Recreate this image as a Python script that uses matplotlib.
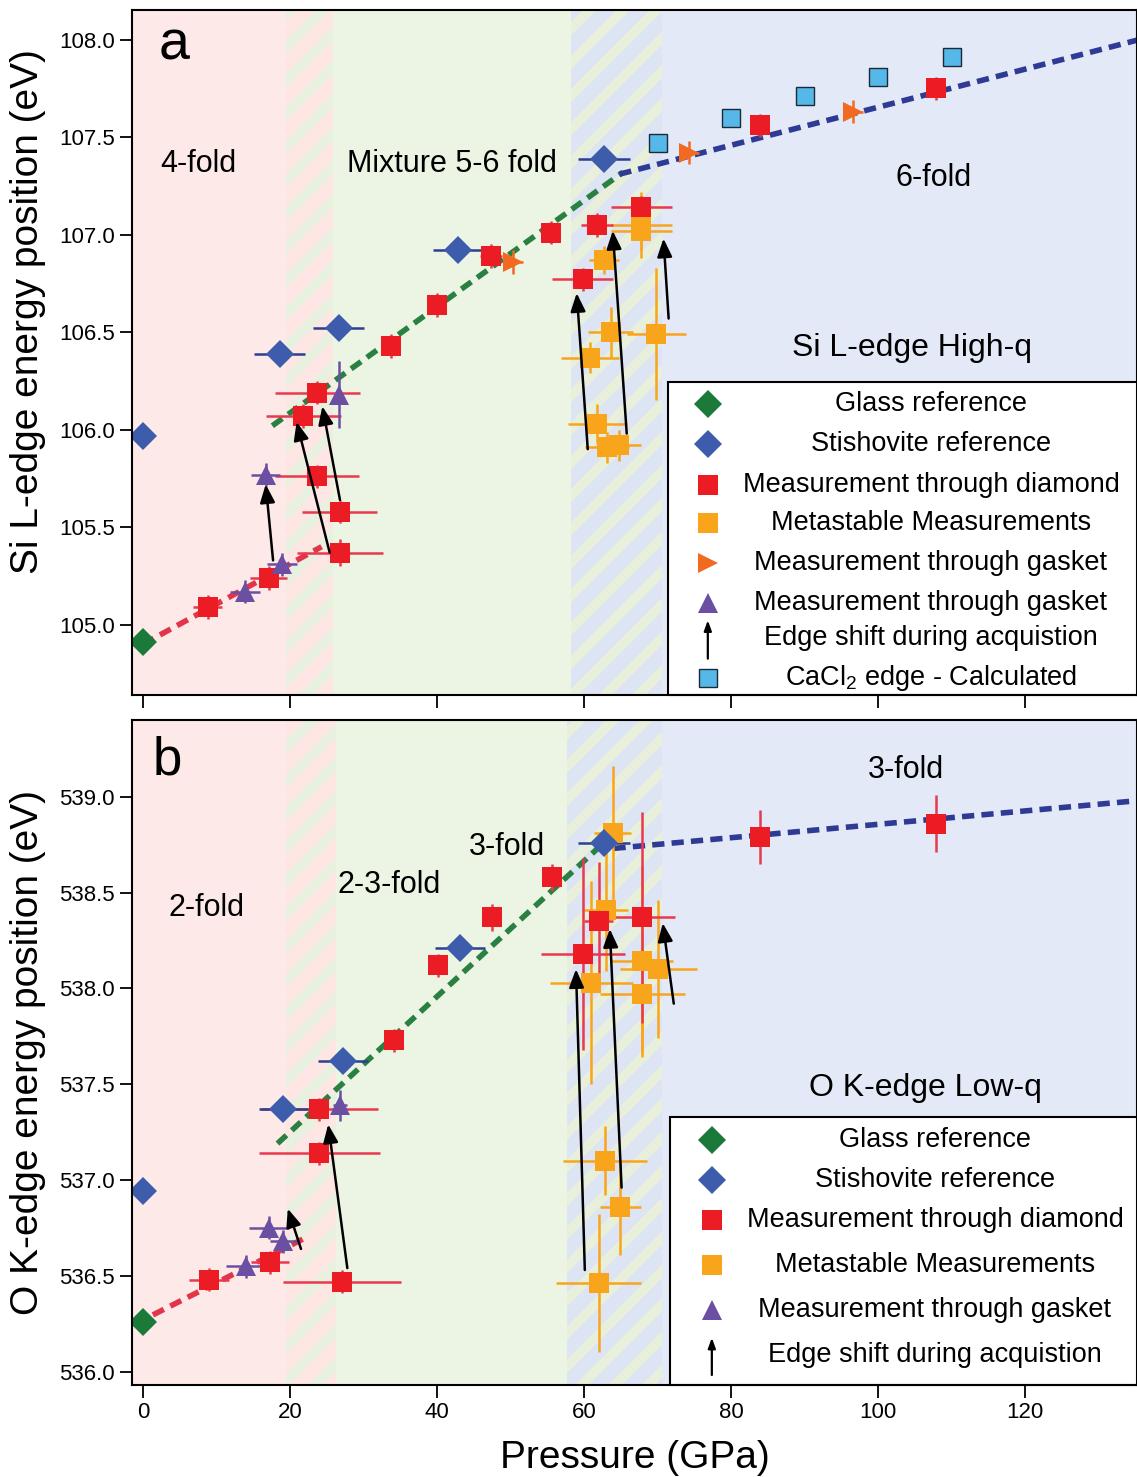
"""
Si L-edge / O K-edge energy position vs pressure (two stacked panels).
"""

import matplotlib
matplotlib.use("Agg")
import matplotlib.pyplot as plt
from matplotlib.patches import Rectangle

plt.rcParams["font.family"] = ["Liberation Sans", "DejaVu Sans"]
plt.rcParams["mathtext.default"] = "regular"
plt.rcParams["hatch.linewidth"] = 7

# ---------------- panel a: Si L-edge ----------------
glass_a_x = [0]
glass_a_y = [104.91]

stish_a_x = [0, 18.6, 26.6, 42.8, 62.7]
stish_a_y = [105.97, 106.39, 106.52, 106.92, 107.39]
stish_a_xerr = [0, 3.5, 3.5, 3.3, 3.5]

diam_a_x = [8.8, 17.1, 23.7, 26.8, 26.8, 21.8, 23.7, 33.8, 40.0, 47.3, 55.5, 59.8, 61.8, 67.8, 83.9, 107.8]
diam_a_y = [105.09, 105.24, 105.76, 105.58, 105.37, 106.07, 106.19, 106.43, 106.64, 106.89, 107.01,
            106.77, 107.05, 107.14, 107.56, 107.75]
diam_a_xerr = [2.0, 2.5, 5.7, 5.1, 5.8, 5.1, 5.8, 1.2, 1.2, 1.5, 1.2, 4.1, 2.2, 4.1, 1.0, 1.0]
diam_a_yerr = [0.06, 0.06, 0.06, 0.06, 0.07, 0.06, 0.06, 0.06, 0.06, 0.06, 0.06, 0.06, 0.06, 0.06, 0.06, 0.06]

meta_a_x = [60.8, 61.8, 63.1, 64.7, 63.6, 69.8, 62.7, 67.8, 67.8]
meta_a_y = [106.37, 106.03, 105.91, 105.92, 106.50, 106.49, 106.87, 107.05, 107.02]
meta_a_xerr = [4.0, 4.0, 3.0, 3.0, 3.0, 4.0, 2.0, 4.1, 4.1]
meta_a_yerr = [0.08, 0.10, 0.08, 0.08, 0.13, 0.34, 0.07, 0.17, 0.10]

gasket_r_a_x = [50.4, 74.3, 96.6]
gasket_r_a_y = [106.86, 107.42, 107.63]

gasket_t_a_x = [13.9, 18.9, 16.7, 26.6]
gasket_t_a_y = [105.17, 105.31, 105.77, 106.18]
gasket_t_a_xerr = [2.0, 2.0, 2.0, 0.3]
gasket_t_a_yerr = [0.06, 0.06, 0.06, 0.17]

cacl2_x = [70, 80, 90, 100, 110]
cacl2_y = [107.47, 107.60, 107.71, 107.81, 107.91]

arrow_a_start = [(17.7, 105.33), (25.4, 105.37), (26.8, 105.64), (60.5, 105.90), (65.8, 105.98), (71.5, 106.57)]
arrow_a_end = [(16.7, 105.72), (20.9, 106.04), (24.4, 106.12), (59.0, 106.70), (63.9, 107.02), (70.8, 106.98)]

fit_red_a_x, fit_red_a_y = [0, 24.3], [104.90, 105.40]
fit_green_a_x, fit_green_a_y = [17.6, 65.3], [106.02, 107.32]
fit_blue_a_x, fit_blue_a_y = [64.8, 135.5], [107.31, 108.00]

# ---------------- panel b: O K-edge ----------------
glass_b_x = [0]
glass_b_y = [536.26]

stish_b_x = [0, 19.1, 27.2, 43.1, 62.7]
stish_b_y = [536.94, 537.37, 537.62, 538.21, 538.76]
stish_b_xerr = [0, 3.3, 3.4, 3.4, 3.5]

diam_b_x = [9.0, 17.3, 24.0, 24.0, 27.1, 34.1, 40.2, 47.5, 55.7, 59.9, 62.0, 67.9, 83.9, 107.8]
diam_b_y = [536.48, 536.57, 537.14, 537.37, 536.47, 537.73, 538.12, 538.37, 538.58, 538.18, 538.35,
            538.37, 538.79, 538.86]
diam_b_xerr = [2.7, 2.6, 8.2, 8.0, 8.0, 1.2, 1.2, 1.2, 1.2, 5.7, 2.0, 4.5, 1.0, 1.0]
diam_b_yerr = [0.06, 0.06, 0.06, 0.06, 0.06, 0.06, 0.06, 0.07, 0.07, 0.50, 0.31, 0.55, 0.14, 0.15]

meta_b_x = [63.9, 63.0, 61.0, 67.9, 70.1, 67.9, 62.9, 64.9, 62.0]
meta_b_y = [538.81, 538.41, 538.03, 538.14, 538.10, 537.97, 537.10, 536.86, 536.46]
meta_b_xerr = [2.5, 3.0, 5.7, 4.2, 5.2, 5.8, 5.7, 2.8, 5.8]
meta_b_yerr = [0.35, 0.32, 0.53, 0.50, 0.36, 0.30, 0.18, 0.25, 0.36]

gasket_t_b_x = [14.0, 17.1, 19.1, 26.8]
gasket_t_b_y = [536.55, 536.75, 536.68, 537.39]
gasket_t_b_xerr = [2.7, 2.7, 1.8, 1.0]
gasket_t_b_yerr = [0.06, 0.06, 0.06, 0.08]

arrow_b_start = [(21.5, 536.64), (27.8, 536.54), (60.1, 536.53), (65.1, 536.96), (72.2, 537.92)]
arrow_b_end = [(19.7, 536.85), (25.2, 537.29), (58.9, 538.10), (63.5, 538.31), (70.7, 538.34)]

fit_red_b_x, fit_red_b_y = [-1.0, 22.2], [536.25, 536.70]
fit_green_b_x, fit_green_b_y = [18.3, 62.7], [537.19, 538.76]
fit_blue_b_x, fit_blue_b_y = [64.0, 135.5], [538.73, 538.98]

# background regions (pressure boundaries)
regions_a = [-2, 19.5, 25.9, 58.2, 70.6, 140]
regions_b = [-2, 19.5, 26.2, 57.7, 70.6, 140]

# colours
C_GLASS = "#1b7a3a"
C_STISH = "#3d5cab"
C_DIAM = "#ec1c24"
C_META = "#f9a51b"
C_GASK_R = "#f26a21"
C_GASK_T = "#6b4fa3"
C_CACL2 = "#56b8e8"
C_PINK = "#fde9e7"
C_GREEN = "#ecf4e4"
C_BLUE = "#e3e9f6"

MS_SQ = 15
MS_DI = 14
MS_TR = 15


def shade(ax, edges):
    ax.axvspan(edges[0], edges[1], facecolor=C_PINK, lw=0, zorder=0)
    ax.axvspan(edges[1], edges[2], facecolor="#fde6e4", edgecolor="#e8f1df", hatch="/", lw=0, zorder=0)
    ax.axvspan(edges[2], edges[3], facecolor=C_GREEN, lw=0, zorder=0)
    ax.axvspan(edges[3], edges[4], facecolor="#dde5f5", edgecolor="#e8efda", hatch="/", lw=0, zorder=0)
    ax.axvspan(edges[4], edges[5], facecolor=C_BLUE, lw=0, zorder=0)


def series(ax, x, y, marker, color, ms, xerr=None, yerr=None, ecolor=None, mec=None, z=4):
    ax.errorbar(x, y, xerr=xerr, yerr=yerr, fmt=marker, color=color, ms=ms,
                ecolor=ecolor or color, elinewidth=1.8, capsize=0,
                mec=mec or color, mew=1.0 if mec else 0, zorder=z)


def fit(ax, x, y, color):
    ax.plot(x, y, color=color, lw=4, ls=(0, (2.2, 1.3)), zorder=3)


def arrows(ax, starts, ends):
    for s, e in zip(starts, ends):
        ax.annotate("", xy=e, xytext=s,
                    arrowprops=dict(arrowstyle="-|>,head_length=1.1,head_width=0.45",
                                    color="black", lw=1.8, shrinkA=0, shrinkB=0),
                    zorder=6)


def legend_box(ax, x0, y_top, rows, mk_x, txt_x):
    ax.add_patch(Rectangle((x0, 0), 1 - x0 + 0.01, y_top, transform=ax.transAxes,
                           facecolor="white", edgecolor="black", lw=1.5, zorder=7, clip_on=False))
    for yy, kind, label in rows:
        if kind == "arrow":
            ax.annotate("", xy=(mk_x, yy + 0.026), xytext=(mk_x, yy - 0.03),
                        xycoords="axes fraction",
                        arrowprops=dict(arrowstyle="-|>,head_length=0.6,head_width=0.22",
                                        color="black", lw=1.6, shrinkA=0, shrinkB=0), zorder=8)
        else:
            marker, color, ms, mec = kind
            ax.plot([mk_x], [yy], marker=marker, color=color, ms=ms, mec=mec or color,
                    mew=1.0 if mec else 0, transform=ax.transAxes, zorder=8, clip_on=False)
        ax.text(txt_x, yy, label, transform=ax.transAxes, ha="center", va="center",
                fontsize=19.5, zorder=8)


def style(ax, ylim, yticks):
    ax.set_xlim(-1.5, 135.2)
    ax.set_ylim(*ylim)
    ax.set_xticks([0, 20, 40, 60, 80, 100, 120])
    ax.set_yticks(yticks)
    ax.set_yticklabels([f"{t:.1f}" for t in yticks])
    ax.tick_params(direction="out", length=9, width=1.3, labelsize=16)
    for sp in ax.spines.values():
        sp.set_linewidth(1.5)
        sp.set_zorder(9)


fig = plt.figure(figsize=(11.37, 14.77), dpi=100)
ax1 = fig.add_axes([0.116, 0.5295, 0.884, 0.4635])
ax2 = fig.add_axes([0.116, 0.0623, 0.884, 0.4502])

# ---- panel a ----
shade(ax1, regions_a)
fit(ax1, fit_red_a_x, fit_red_a_y, "#e2354a")
fit(ax1, fit_green_a_x, fit_green_a_y, "#2a8040")
fit(ax1, fit_blue_a_x, fit_blue_a_y, "#2e3a94")
series(ax1, meta_a_x, meta_a_y, "s", C_META, MS_SQ, meta_a_xerr, meta_a_yerr)
series(ax1, diam_a_x, diam_a_y, "s", C_DIAM, MS_SQ, diam_a_xerr, diam_a_yerr, ecolor="#e8394d")
series(ax1, gasket_r_a_x, gasket_r_a_y, ">", C_GASK_R, MS_TR, 1.3, 0.06)
series(ax1, gasket_t_a_x, gasket_t_a_y, "^", C_GASK_T, MS_TR, gasket_t_a_xerr, gasket_t_a_yerr)
series(ax1, stish_a_x, stish_a_y, "D", C_STISH, MS_DI, stish_a_xerr, None, ecolor="#2d3f8f")
series(ax1, glass_a_x, glass_a_y, "D", C_GLASS, MS_DI)
series(ax1, cacl2_x, cacl2_y, "s", C_CACL2, 13, mec="#1a2a3a")
arrows(ax1, arrow_a_start, arrow_a_end)
style(ax1, (104.64, 108.15), [105.0, 105.5, 106.0, 106.5, 107.0, 107.5, 108.0])
ax1.set_xticklabels([])
ax1.set_ylabel("Si L-edge energy position (eV)", fontsize=28)
ax1.yaxis.set_label_coords(-0.085, 0.56)

ax1.text(4.2, 107.97, "a", fontsize=40, ha="center", va="center")
ax1.text(7.6, 107.36, "4-fold", fontsize=22, ha="center", va="center")
ax1.text(42.0, 107.36, "Mixture 5-6 fold", fontsize=22, ha="center", va="center")
ax1.text(107.5, 107.29, "6-fold", fontsize=22, ha="center", va="center")
ax1.text(104.6, 106.42, "Si L-edge High-q", fontsize=23, ha="center", va="center")

legend_box(ax1, 0.533, 0.457, [
    (0.425, ("D", C_GLASS, MS_DI, None), "Glass reference"),
    (0.366, ("D", C_STISH, MS_DI, None), "Stishovite reference"),
    (0.307, ("s", C_DIAM, MS_SQ, None), "Measurement through diamond"),
    (0.251, ("s", C_META, MS_SQ, None), "Metastable Measurements"),
    (0.193, (">", C_GASK_R, MS_TR, None), "Measurement through gasket"),
    (0.134, ("^", C_GASK_T, MS_TR, None), "Measurement through gasket"),
    (0.083, "arrow", "Edge shift during acquistion"),
    (0.025, ("s", C_CACL2, 13, "#1a2a3a"), r"CaCl$_2$ edge - Calculated"),
], 0.573, 0.795)

# ---- panel b ----
shade(ax2, regions_b)
fit(ax2, fit_red_b_x, fit_red_b_y, "#e2354a")
fit(ax2, fit_green_b_x, fit_green_b_y, "#2a8040")
fit(ax2, fit_blue_b_x, fit_blue_b_y, "#2e3a94")
series(ax2, meta_b_x, meta_b_y, "s", C_META, MS_SQ, meta_b_xerr, meta_b_yerr)
series(ax2, diam_b_x, diam_b_y, "s", C_DIAM, MS_SQ, diam_b_xerr, diam_b_yerr, ecolor="#e8394d")
series(ax2, gasket_t_b_x, gasket_t_b_y, "^", C_GASK_T, MS_TR, gasket_t_b_xerr, gasket_t_b_yerr)
series(ax2, stish_b_x, stish_b_y, "D", C_STISH, MS_DI, stish_b_xerr, None, ecolor="#2d3f8f")
series(ax2, glass_b_x, glass_b_y, "D", C_GLASS, MS_DI)
arrows(ax2, arrow_b_start, arrow_b_end)
style(ax2, (535.93, 539.40), [536.0, 536.5, 537.0, 537.5, 538.0, 538.5, 539.0])
ax2.set_ylabel("O K-edge energy position (eV)", fontsize=28)
ax2.yaxis.set_label_coords(-0.085, 0.5)
ax2.set_xlabel("Pressure (GPa)", fontsize=28, labelpad=12)

ax2.text(3.3, 539.19, "b", fontsize=38, ha="center", va="center")
ax2.text(8.6, 538.42, "2-fold", fontsize=22, ha="center", va="center")
ax2.text(33.5, 538.54, "2-3-fold", fontsize=22, ha="center", va="center")
ax2.text(49.5, 538.74, "3-fold", fontsize=22, ha="center", va="center")
ax2.text(103.8, 539.14, "3-fold", fontsize=22, ha="center", va="center")
ax2.text(106.4, 537.48, "O K-edge Low-q", fontsize=23, ha="center", va="center")

legend_box(ax2, 0.535, 0.403, [
    (0.368, ("D", C_GLASS, MS_DI, None), "Glass reference"),
    (0.308, ("D", C_STISH, MS_DI, None), "Stishovite reference"),
    (0.248, ("s", C_DIAM, MS_SQ, None), "Measurement through diamond"),
    (0.180, ("s", C_META, MS_SQ, None), "Metastable Measurements"),
    (0.113, ("^", C_GASK_T, MS_TR, None), "Measurement through gasket"),
    (0.045, "arrow", "Edge shift during acquistion"),
], 0.577, 0.799)

fig.savefig("out.png", dpi=100)
